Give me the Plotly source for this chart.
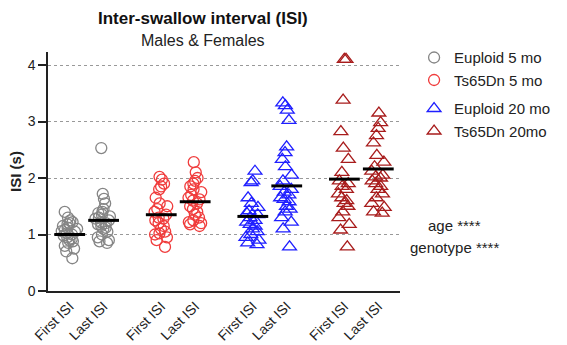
import plotly.graph_objects as go

FONT = "Liberation Sans, Arial, sans-serif"

groups = ["Euploid 5 mo", "Ts65Dn 5 mo", "Euploid 20 mo", "Ts65Dn 20mo"]
colors = ["#858585", "#f03c3c", "#1f1fff", "#a81c1c"]
symbols = ["circle-open", "circle-open", "triangle-up-open", "triangle-up-open"]
tick_labels = ["First ISI", "Last ISI"]

eu5_first = [1.40, 1.30, 1.25, 1.20, 1.18, 1.15, 1.12, 1.10, 1.08, 1.05, 1.02, 1.00,
             0.98, 0.95, 0.92, 0.90, 0.88, 0.85, 0.80, 0.75, 0.70, 0.58, 1.22, 1.06]
eu5_last = [2.53, 1.72, 1.63, 1.55, 1.45, 1.40, 1.35, 1.32, 1.30, 1.28, 1.25, 1.22,
            1.20, 1.18, 1.15, 1.12, 1.10, 1.05, 1.00, 0.95, 0.90, 0.85, 0.88, 1.38]
ts5_first = [2.02, 1.97, 1.90, 1.85, 1.80, 1.65, 1.55, 1.50, 1.45, 1.40, 1.35, 1.30,
             1.25, 1.20, 1.15, 1.10, 1.05, 1.00, 0.95, 0.90, 0.78, 1.02, 1.28]
ts5_last = [2.28, 2.10, 2.00, 1.95, 1.90, 1.85, 1.80, 1.75, 1.70, 1.65, 1.60, 1.55,
            1.50, 1.45, 1.40, 1.35, 1.30, 1.25, 1.20, 1.18, 1.15, 1.22, 1.62]
eu20_first = [2.12, 1.95, 1.92, 1.65, 1.55, 1.48, 1.42, 1.38, 1.35, 1.30, 1.25, 1.22,
              1.18, 1.15, 1.10, 1.05, 1.00, 0.95, 0.90, 0.85, 0.82]
eu20_last = [3.33, 3.28, 3.20, 3.02, 2.55, 2.45, 2.33, 2.20, 2.05, 1.95, 1.85, 1.80,
             1.75, 1.70, 1.65, 1.58, 1.50, 1.45, 1.40, 1.30, 1.22, 1.10, 0.78, 1.62]
ts20_first = [4.10, 4.10, 3.38, 2.82, 2.53, 2.33, 2.10, 1.95, 1.90, 1.85, 1.80, 1.72,
              1.65, 1.60, 1.55, 1.50, 1.40, 1.30, 1.18, 1.08, 0.78]
ts20_last = [3.15, 2.98, 2.88, 2.75, 2.62, 2.40, 2.28, 2.20, 2.12, 2.05, 2.00, 1.95,
             1.90, 1.85, 1.80, 1.72, 1.65, 1.55, 1.48, 1.40, 1.38, 2.02]

means = [1.00, 1.25, 1.35, 1.58, 1.32, 1.86, 1.98, 2.16]

series = [(eu5_first, eu5_last), (ts5_first, ts5_last),
          (eu20_first, eu20_last), (ts20_first, ts20_last)]

GROUP_STEP = 2.7
positions = []
texts = []
for g in range(len(groups)):
    for k in range(2):
        positions.append(g * GROUP_STEP + k)
        texts.append(tick_labels[k])

fig = go.Figure()

for g, name in enumerate(groups):
    lg = "a" if g < 2 else "b"
    msize = 11 if g < 2 else 12
    for k in range(2):
        vals = series[g][k]
        fig.add_trace(go.Box(
            x=[positions[2 * g + k]] * len(vals), y=vals,
            boxpoints="all", jitter=0.9, pointpos=0, width=0.55,
            fillcolor="rgba(0,0,0,0)", line=dict(width=0, color="rgba(0,0,0,0)"),
            marker=dict(symbol=symbols[g], color=colors[g], size=msize,
                        line=dict(width=1.3, color=colors[g])),
            showlegend=False, hoverinfo="y",
        ))
    fig.add_trace(go.Scatter(
        x=[None], y=[None], mode="markers", name=name, legendgroup=lg,
        marker=dict(symbol=symbols[g], color=colors[g], size=msize,
                    line=dict(width=1.3, color=colors[g])),
    ))

fig.add_trace(go.Scatter(
    x=positions, y=means, mode="markers", showlegend=False,
    marker=dict(symbol="line-ew", size=22, color="black",
                line=dict(width=3, color="black")),
))

ann_font = dict(size=15, color="#222")
fig.update_layout(
    width=567, height=345,
    margin=dict(l=48, r=161, t=52, b=54),
    paper_bgcolor="white", plot_bgcolor="white",
    font=dict(family=FONT, size=14, color="#222"),
    boxmode="overlay",
    showlegend=True,
    legend=dict(x=1.04, y=1.045, xanchor="left", yanchor="top",
                traceorder="grouped", tracegroupgap=6,
                font=dict(size=15, color="#222"), bgcolor="rgba(0,0,0,0)",
                itemwidth=30),
    xaxis=dict(range=[-0.64, 9.74], tickvals=positions, ticktext=texts,
               tickangle=-45, showline=True, linecolor="#222", linewidth=1.5,
               ticks="", showgrid=False, zeroline=False, automargin=False,
               tickfont=dict(size=14, color="#222")),
    yaxis=dict(range=[0, 4.23], tickvals=[0, 1, 2, 3, 4], showline=True,
               linecolor="#222", linewidth=1.5, ticks="outside", ticklen=8,
               tickwidth=1.5, tickcolor="#222", automargin=False,
               showgrid=True, gridcolor="#999", griddash="dot", gridwidth=1,
               zeroline=False,
               title=dict(text="<b>ISI (s)</b>", font=dict(size=15), standoff=2),
               tickfont=dict(size=14, color="#222")),
    annotations=[
        dict(text="<b>Inter-swallow interval (ISI)</b>", x=0.441, y=1.142,
             xref="paper", yref="paper", showarrow=False,
             xanchor="center", yanchor="middle",
             font=dict(size=17, color="#111")),
        dict(text="Males & Females", x=0.441, y=1.05, xref="paper", yref="paper",
             showarrow=False, xanchor="center", yanchor="middle",
             font=dict(size=16, color="#222")),
        dict(text="age ****", x=1.154, y=0.276, xref="paper", yref="paper",
             showarrow=False, xanchor="center", yanchor="middle", font=ann_font),
        dict(text="genotype ****", x=1.154, y=0.184, xref="paper", yref="paper",
             showarrow=False, xanchor="center", yanchor="middle", font=ann_font),
    ],
)

fig.write_html("out.html")
